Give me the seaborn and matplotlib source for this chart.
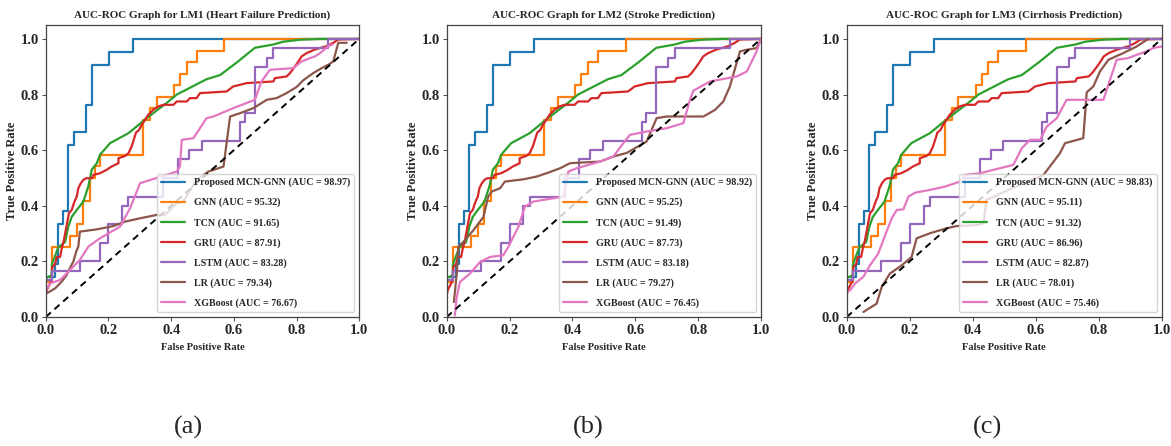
import matplotlib
matplotlib.use("Agg")
import matplotlib.pyplot as plt
import seaborn as sns
import numpy as np

# ---------------- data ----------------
models = ["Proposed MCN-GNN", "GNN", "TCN", "GRU", "LSTM", "LR", "XGBoost"]
colors = ["#1f77b4", "#ff7f0e", "#2ca02c", "#d62728", "#9467bd", "#8c564b", "#e377c2"]

titles = ["AUC-ROC Graph for LM1 (Heart Failure Prediction)",
          "AUC-ROC Graph for LM2 (Stroke Prediction)",
          "AUC-ROC Graph for LM3 (Cirrhosis Prediction)"]
panel_tags = ["(a)", "(b)", "(c)"]

auc_lm1 = [98.97, 95.32, 91.65, 87.91, 83.28, 79.34, 76.67]
auc_lm2 = [98.92, 95.25, 91.49, 87.73, 83.18, 79.27, 76.45]
auc_lm3 = [98.83, 95.11, 91.32, 86.96, 82.87, 78.01, 75.46]

# staircase curves (steps-post)
mcn_fpr = [0, 0.03, 0.04, 0.056, 0.072, 0.09, 0.129, 0.148, 0.202, 0.277, 1.0]
mcn_tpr = [0.143, 0.19, 0.333, 0.381, 0.619, 0.667, 0.762, 0.905, 0.952, 1.0, 1.0]

gnn_fpr = [0, 0.019, 0.077, 0.099, 0.12, 0.141, 0.157, 0.173, 0.311, 0.333, 0.354,
           0.409, 0.428, 0.45, 0.481, 0.569, 1.0]
gnn_tpr = [0.125, 0.25, 0.292, 0.333, 0.417, 0.5, 0.542, 0.583, 0.708, 0.75, 0.792,
           0.833, 0.875, 0.917, 0.958, 1.0, 1.0]

lstm_fpr = [0, 0.019, 0.109, 0.173, 0.2, 0.244, 0.264, 0.375, 0.422, 0.457, 0.497,
            0.62, 0.635, 0.667, 0.705, 0.726, 0.9, 1.0]
lstm_tpr = [0.133, 0.167, 0.2, 0.267, 0.333, 0.4, 0.433, 0.5, 0.567, 0.6, 0.633,
            0.7, 0.733, 0.9, 0.933, 0.967, 1.0, 1.0]

# vertex curves
tcn_fpr = [0, 0.019, 0.02, 0.04, 0.062, 0.072, 0.083, 0.099, 0.12, 0.136, 0.147, 0.163,
           0.173, 0.205, 0.264, 0.322, 0.386, 0.418, 0.513, 0.556, 0.609, 0.667, 0.726,
           0.758, 0.811, 0.875, 1.0]
tcn_tpr = [0.14, 0.15, 0.19, 0.25, 0.27, 0.325, 0.36, 0.385, 0.415, 0.47, 0.53, 0.553,
           0.583, 0.625, 0.661, 0.715, 0.77, 0.8, 0.855, 0.87, 0.915, 0.968, 0.98,
           0.99, 0.997, 1.0, 1.0]

gru_fpr = [0, 0.003, 0.011, 0.019, 0.021, 0.03, 0.035, 0.046, 0.051, 0.058, 0.064, 0.069,
           0.074, 0.083, 0.088, 0.094, 0.099, 0.104, 0.112, 0.12, 0.129, 0.147, 0.152,
           0.173, 0.194, 0.21, 0.232, 0.232, 0.253, 0.264, 0.274, 0.279, 0.288, 0.298,
           0.306, 0.317, 0.327, 0.343, 0.359, 0.375, 0.407, 0.418, 0.45, 0.46, 0.481,
           0.492, 0.577, 0.598, 0.641, 0.726, 0.731, 0.768, 0.779, 0.795, 0.806, 0.816,
           0.832, 0.859, 0.896, 0.917, 0.933, 1.0]
gru_tpr = [0.078, 0.096, 0.114, 0.132, 0.18, 0.19, 0.216, 0.216, 0.246, 0.276, 0.313, 0.343,
           0.373, 0.385, 0.403, 0.421, 0.433, 0.463, 0.481, 0.493, 0.499, 0.499, 0.511,
           0.517, 0.529, 0.541, 0.553, 0.571, 0.579, 0.589, 0.613, 0.631, 0.663, 0.673,
           0.691, 0.709, 0.727, 0.745, 0.757, 0.763, 0.763, 0.775, 0.775, 0.787, 0.787,
           0.805, 0.811, 0.829, 0.841, 0.847, 0.859, 0.865, 0.877, 0.901, 0.919, 0.937,
           0.949, 0.962, 0.974, 0.986, 0.998, 1.0]

# LR and XGBoost differ per panel
lr1_fpr = [0, 0.03, 0.051, 0.067, 0.077, 0.088, 0.099, 0.104, 0.109, 0.162, 0.216, 0.253,
           0.301, 0.354, 0.38, 0.418, 0.439, 0.481, 0.519, 0.567, 0.588, 0.62, 0.662,
           0.705, 0.736, 0.768, 0.8, 0.821, 0.853, 0.88, 0.901, 0.917, 0.933, 0.96]
lr1_tpr = [0.083, 0.103, 0.127, 0.151, 0.175, 0.199, 0.241, 0.253, 0.307, 0.315, 0.327,
           0.343, 0.355, 0.367, 0.367, 0.409, 0.415, 0.493, 0.523, 0.541, 0.721, 0.733,
           0.751, 0.781, 0.787, 0.805, 0.827, 0.851, 0.877, 0.895, 0.907, 0.919, 0.986,
           0.986]
xgb1_fpr = [0, 0, 0.008, 0.014, 0.046, 0.109, 0.136, 0.173, 0.237, 0.269, 0.301, 0.418,
            0.428, 0.434, 0.471, 0.513, 0.535, 0.598, 0.667, 0.688, 0.715, 0.79, 0.816,
            0.843, 0.859, 0.875, 0.901, 0.915]
xgb1_tpr = [0.0, 0.097, 0.109, 0.121, 0.133, 0.205, 0.253, 0.283, 0.325, 0.391, 0.481,
            0.523, 0.541, 0.637, 0.643, 0.715, 0.721, 0.751, 0.781, 0.847, 0.889, 0.895,
            0.919, 0.931, 0.937, 0.949, 0.974, 0.98]

lr2_fpr = [0.023, 0.032, 0.037, 0.053, 0.085, 0.117, 0.132, 0.143, 0.17, 0.185, 0.244,
           0.286, 0.318, 0.361, 0.392, 0.488, 0.53, 0.573, 0.636, 0.668, 0.7, 0.817,
           0.854, 0.88, 0.901, 0.933, 0.955, 0.986, 1.0]
lr2_tpr = [0.054, 0.156, 0.252, 0.27, 0.312, 0.36, 0.433, 0.451, 0.463, 0.487, 0.495,
           0.505, 0.517, 0.535, 0.553, 0.559, 0.577, 0.59, 0.631, 0.715, 0.721, 0.721,
           0.745, 0.775, 0.829, 0.955, 0.961, 0.967, 1.0]
xgb2_fpr = [0.026, 0.032, 0.042, 0.074, 0.106, 0.138, 0.18, 0.196, 0.228, 0.249, 0.276,
            0.371, 0.387, 0.414, 0.488, 0.53, 0.562, 0.583, 0.636, 0.7, 0.753, 0.774,
            0.785, 0.838, 0.923, 0.955, 0.986, 1.0]
xgb2_tpr = [0.006, 0.072, 0.126, 0.156, 0.198, 0.216, 0.222, 0.252, 0.324, 0.397, 0.415,
            0.433, 0.523, 0.535, 0.559, 0.577, 0.625, 0.655, 0.667, 0.679, 0.697, 0.781,
            0.814, 0.847, 0.865, 0.883, 0.955, 1.0]

lr3_fpr = [0.053, 0.095, 0.111, 0.137, 0.175, 0.206, 0.222, 0.264, 0.317, 0.349, 0.418,
           0.434, 0.444, 0.5, 0.58, 0.624, 0.677, 0.693, 0.751, 0.762, 0.783, 0.804,
           0.831, 0.878, 0.921, 0.957]
lr3_tpr = [0.018, 0.048, 0.108, 0.156, 0.186, 0.216, 0.283, 0.301, 0.319, 0.327, 0.331,
           0.337, 0.421, 0.45, 0.49, 0.51, 0.589, 0.625, 0.643, 0.808, 0.829, 0.883,
           0.925, 0.949, 0.973, 1.0]
xgb3_fpr = [0.0, 0.011, 0.026, 0.053, 0.074, 0.1, 0.122, 0.143, 0.159, 0.18, 0.196, 0.217,
            0.264, 0.312, 0.36, 0.376, 0.423, 0.529, 0.556, 0.582, 0.614, 0.635, 0.667,
            0.698, 0.815, 0.836, 0.857, 0.894, 0.921, 0.952, 0.973, 1.0]
xgb3_tpr = [0.09, 0.096, 0.12, 0.145, 0.186, 0.228, 0.294, 0.355, 0.385, 0.387, 0.433,
            0.447, 0.457, 0.469, 0.487, 0.511, 0.517, 0.547, 0.607, 0.637, 0.637, 0.685,
            0.715, 0.781, 0.781, 0.853, 0.925, 0.931, 0.943, 0.955, 0.967, 0.973]

panel_aucs = [auc_lm1, auc_lm2, auc_lm3]
panel_lr = [(lr1_fpr, lr1_tpr), (lr2_fpr, lr2_tpr), (lr3_fpr, lr3_tpr)]
panel_xgb = [(xgb1_fpr, xgb1_tpr), (xgb2_fpr, xgb2_tpr), (xgb3_fpr, xgb3_tpr)]

# ---------------- style ----------------
sns.set_style("ticks")
plt.rcParams["font.family"] = ["Liberation Serif", "DejaVu Serif"]
plt.rcParams["font.weight"] = "bold"

W, H = 1171, 446
fig = plt.figure(figsize=(W / 100, H / 100), dpi=100)

lefts = [45.7, 446.7, 846.7]
widths = [313.6, 314.3, 315.0]
ax_bottom = 317.0
ax_top = 25.0
tag_x = [188, 588, 988]

for i in range(3):
    ax = fig.add_axes([lefts[i] / W, (H - ax_bottom) / H, widths[i] / W,
                       (ax_bottom - ax_top) / H])
    aucs = panel_aucs[i]
    curves = [
        (mcn_fpr, mcn_tpr, "steps-post"),
        (gnn_fpr, gnn_tpr, "steps-post"),
        (tcn_fpr, tcn_tpr, "default"),
        (gru_fpr, gru_tpr, "default"),
        (lstm_fpr, lstm_tpr, "steps-post"),
        (panel_lr[i][0], panel_lr[i][1], "default"),
        (panel_xgb[i][0], panel_xgb[i][1], "default"),
    ]
    for k, (fx, ty, ds) in enumerate(curves):
        sns.lineplot(x=fx, y=ty, ax=ax, sort=False, estimator=None,
                     color=colors[k], lw=1.6, drawstyle=ds,
                     label=f"{models[k]} (AUC = {aucs[k]:.2f})")
    sns.lineplot(x=[0, 1], y=[0, 1], ax=ax, sort=False, estimator=None,
                 color="black", lw=1.4, linestyle=(0, (3.5, 2.5)))

    ax.set_xlim(0, 1)
    ax.set_ylim(0, 1.05)
    ax.set_xticks([0, 0.2, 0.4, 0.6, 0.8, 1.0])
    ax.set_yticks([0, 0.2, 0.4, 0.6, 0.8, 1.0])
    ax.set_xticklabels([f"{v:.1f}" for v in ax.get_xticks()], fontsize=10.5, fontweight="bold")
    ax.set_yticklabels([f"{v:.1f}" for v in ax.get_yticks()], fontsize=10.5, fontweight="bold")
    ax.tick_params(length=3, width=0.8, pad=2, color="#555555")
    for s in ax.spines.values():
        s.set_color("#444444")
        s.set_linewidth(0.9)
    ax.set_title(titles[i], fontsize=8, fontweight="bold", pad=5)
    ax.set_xlabel("False Positive Rate", fontsize=7.5, fontweight="bold", labelpad=4)
    ax.set_ylabel("True Positive Rate", fontsize=9, fontweight="bold", labelpad=2)
    leg = ax.legend(loc="lower right", prop={"size": 7.2, "weight": "bold"},
                    labelspacing=1.05, handlelength=2.4, borderaxespad=0.5,
                    handletextpad=0.9, framealpha=0.8)
    fig.text(tag_x[i] / W, 1 - 427 / H, panel_tags[i], fontsize=19,
             fontweight="normal", ha="center", va="center")

fig.savefig("out.png", dpi=100)
